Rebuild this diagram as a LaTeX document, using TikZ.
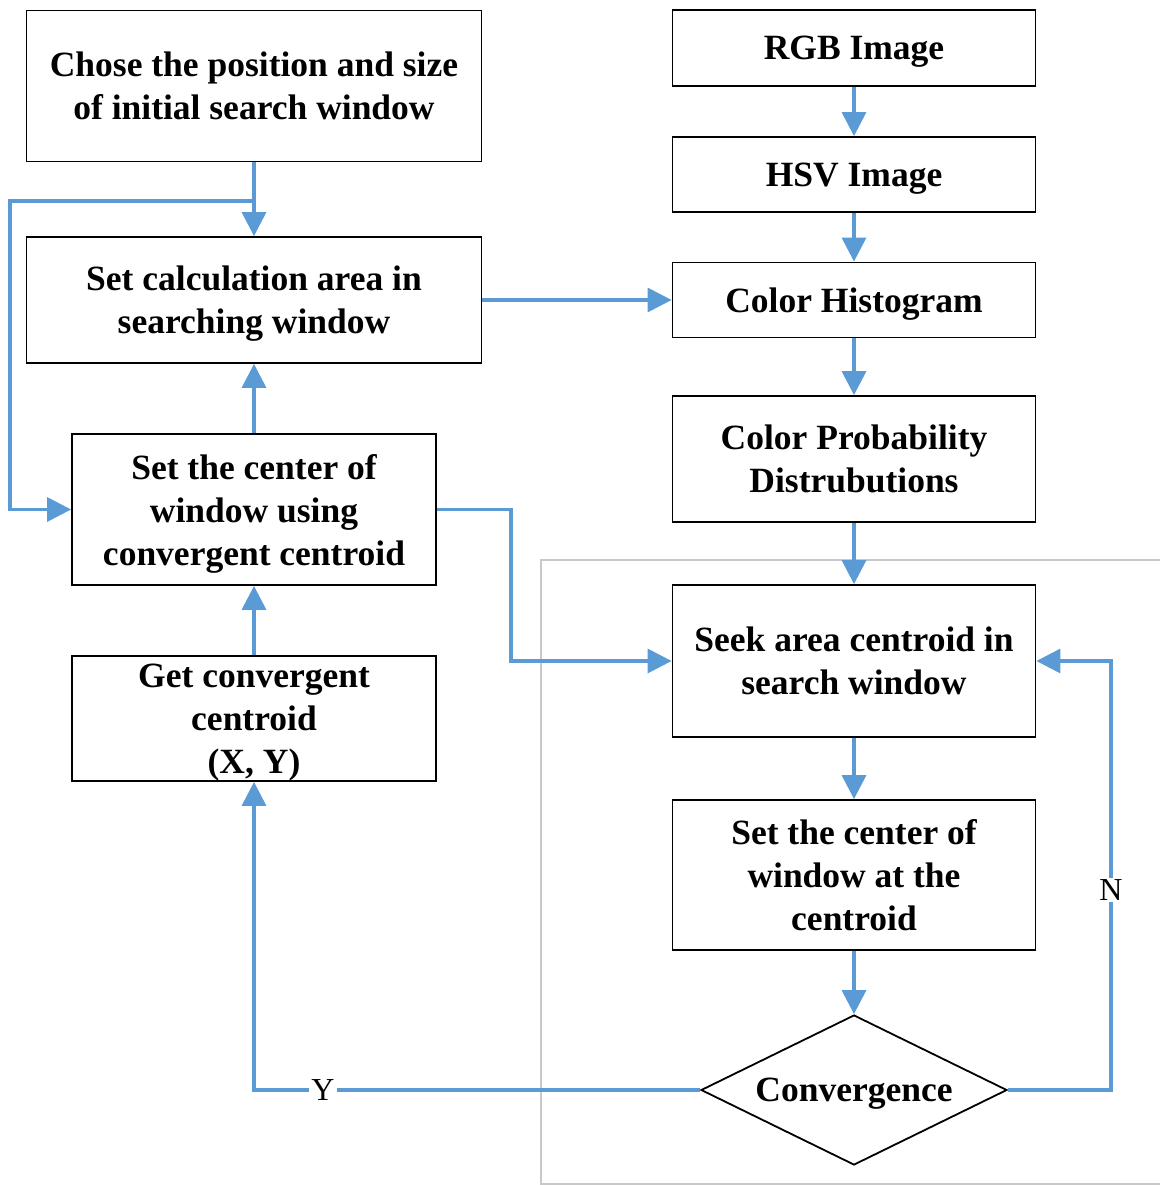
\documentclass[tikz,border=0pt]{standalone}
\usepackage{fontspec}
\setmainfont{Liberation Serif}
\usetikzlibrary{arrows.meta,shapes.geometric}
\definecolor{flowblue}{HTML}{5B9BD5}
\definecolor{framegray}{HTML}{C8C8C8}
\begin{document}
\begin{tikzpicture}[x=1pt,y=-1pt,
  box/.style={draw=black,line width=1.8pt,fill=white,align=center,inner sep=0pt,text depth=0pt,
    font=\fontsize{35.5}{43}\selectfont\bfseries},
  arr/.style={draw=flowblue,line width=3.4pt,-{Triangle[width=24pt,length=24pt]}},
  lbl/.style={fill=white,inner sep=2pt,font=\fontsize{32}{34}\selectfont}]
\useasboundingbox (0,0) rectangle (1159,1185);
% gray frame
\draw[framegray,line width=2.5pt] (1162,560) -- (541,560) -- (541,1184) -- (1162,1184);
% left column
\node[box,minimum width=455pt,minimum height=151pt] (b1) at (254,86) {Chose the position and size\\of initial search window};
\node[box,minimum width=455pt,minimum height=126pt] (b2) at (254,300) {Set calculation area in\\searching window};
\node[box,minimum width=364pt,minimum height=151pt] (b3) at (254,509.5) {Set the center of\\window using\\convergent centroid};
\node[box,minimum width=364pt,minimum height=125pt] (b4) at (254,718.5) {Get convergent\\centroid\\(X, Y)};
% right column
\node[box,minimum width=363pt,minimum height=76pt] (r1) at (854,48) {RGB Image};
\node[box,minimum width=363pt,minimum height=75pt] (r2) at (854,174.5) {HSV Image};
\node[box,minimum width=363pt,minimum height=75pt] (r3) at (854,300) {Color Histogram};
\node[box,minimum width=363pt,minimum height=126pt] (r4) at (854,459) {Color Probability\\Distrubutions};
\node[box,minimum width=363pt,minimum height=152pt] (r5) at (854,661) {Seek area centroid in\\search window};
\node[box,minimum width=363pt,minimum height=150pt] (r6) at (854,875) {Set the center of\\window at the\\centroid};
\node[box,diamond,shape aspect=2,minimum width=306pt,minimum height=150pt] (d) at (854,1090) {Convergence};
% coordinates
\coordinate (j) at (254,201);
% arrows
\draw[arr] (b1.south) -- (b2.north);
\draw[arr] (j) -- (10,201) |- (b3.west);
\draw[arr] (b2.east) -- (r3.west);
\draw[arr] (b3.north) -- (b2.south);
\draw[arr] (b4.north) -- (b3.south);
\draw[arr] (b3.east) -- (511,509.5) |- (r5.west);
\draw[arr] (r1) -- (r2);
\draw[arr] (r2) -- (r3);
\draw[arr] (r3) -- (r4);
\draw[arr] (r4) -- (r5);
\draw[arr] (r5) -- (r6);
\draw[arr] (r6) -- (d);
\draw[arr] (d.east) -- (1111,1090) |- (r5.east);
\draw[arr] (d.west) -| (b4.south);
\node[lbl] (N) at (1111,890) {N};
\node[lbl] (Y) at (323,1090) {Y};
\end{tikzpicture}
\end{document}
